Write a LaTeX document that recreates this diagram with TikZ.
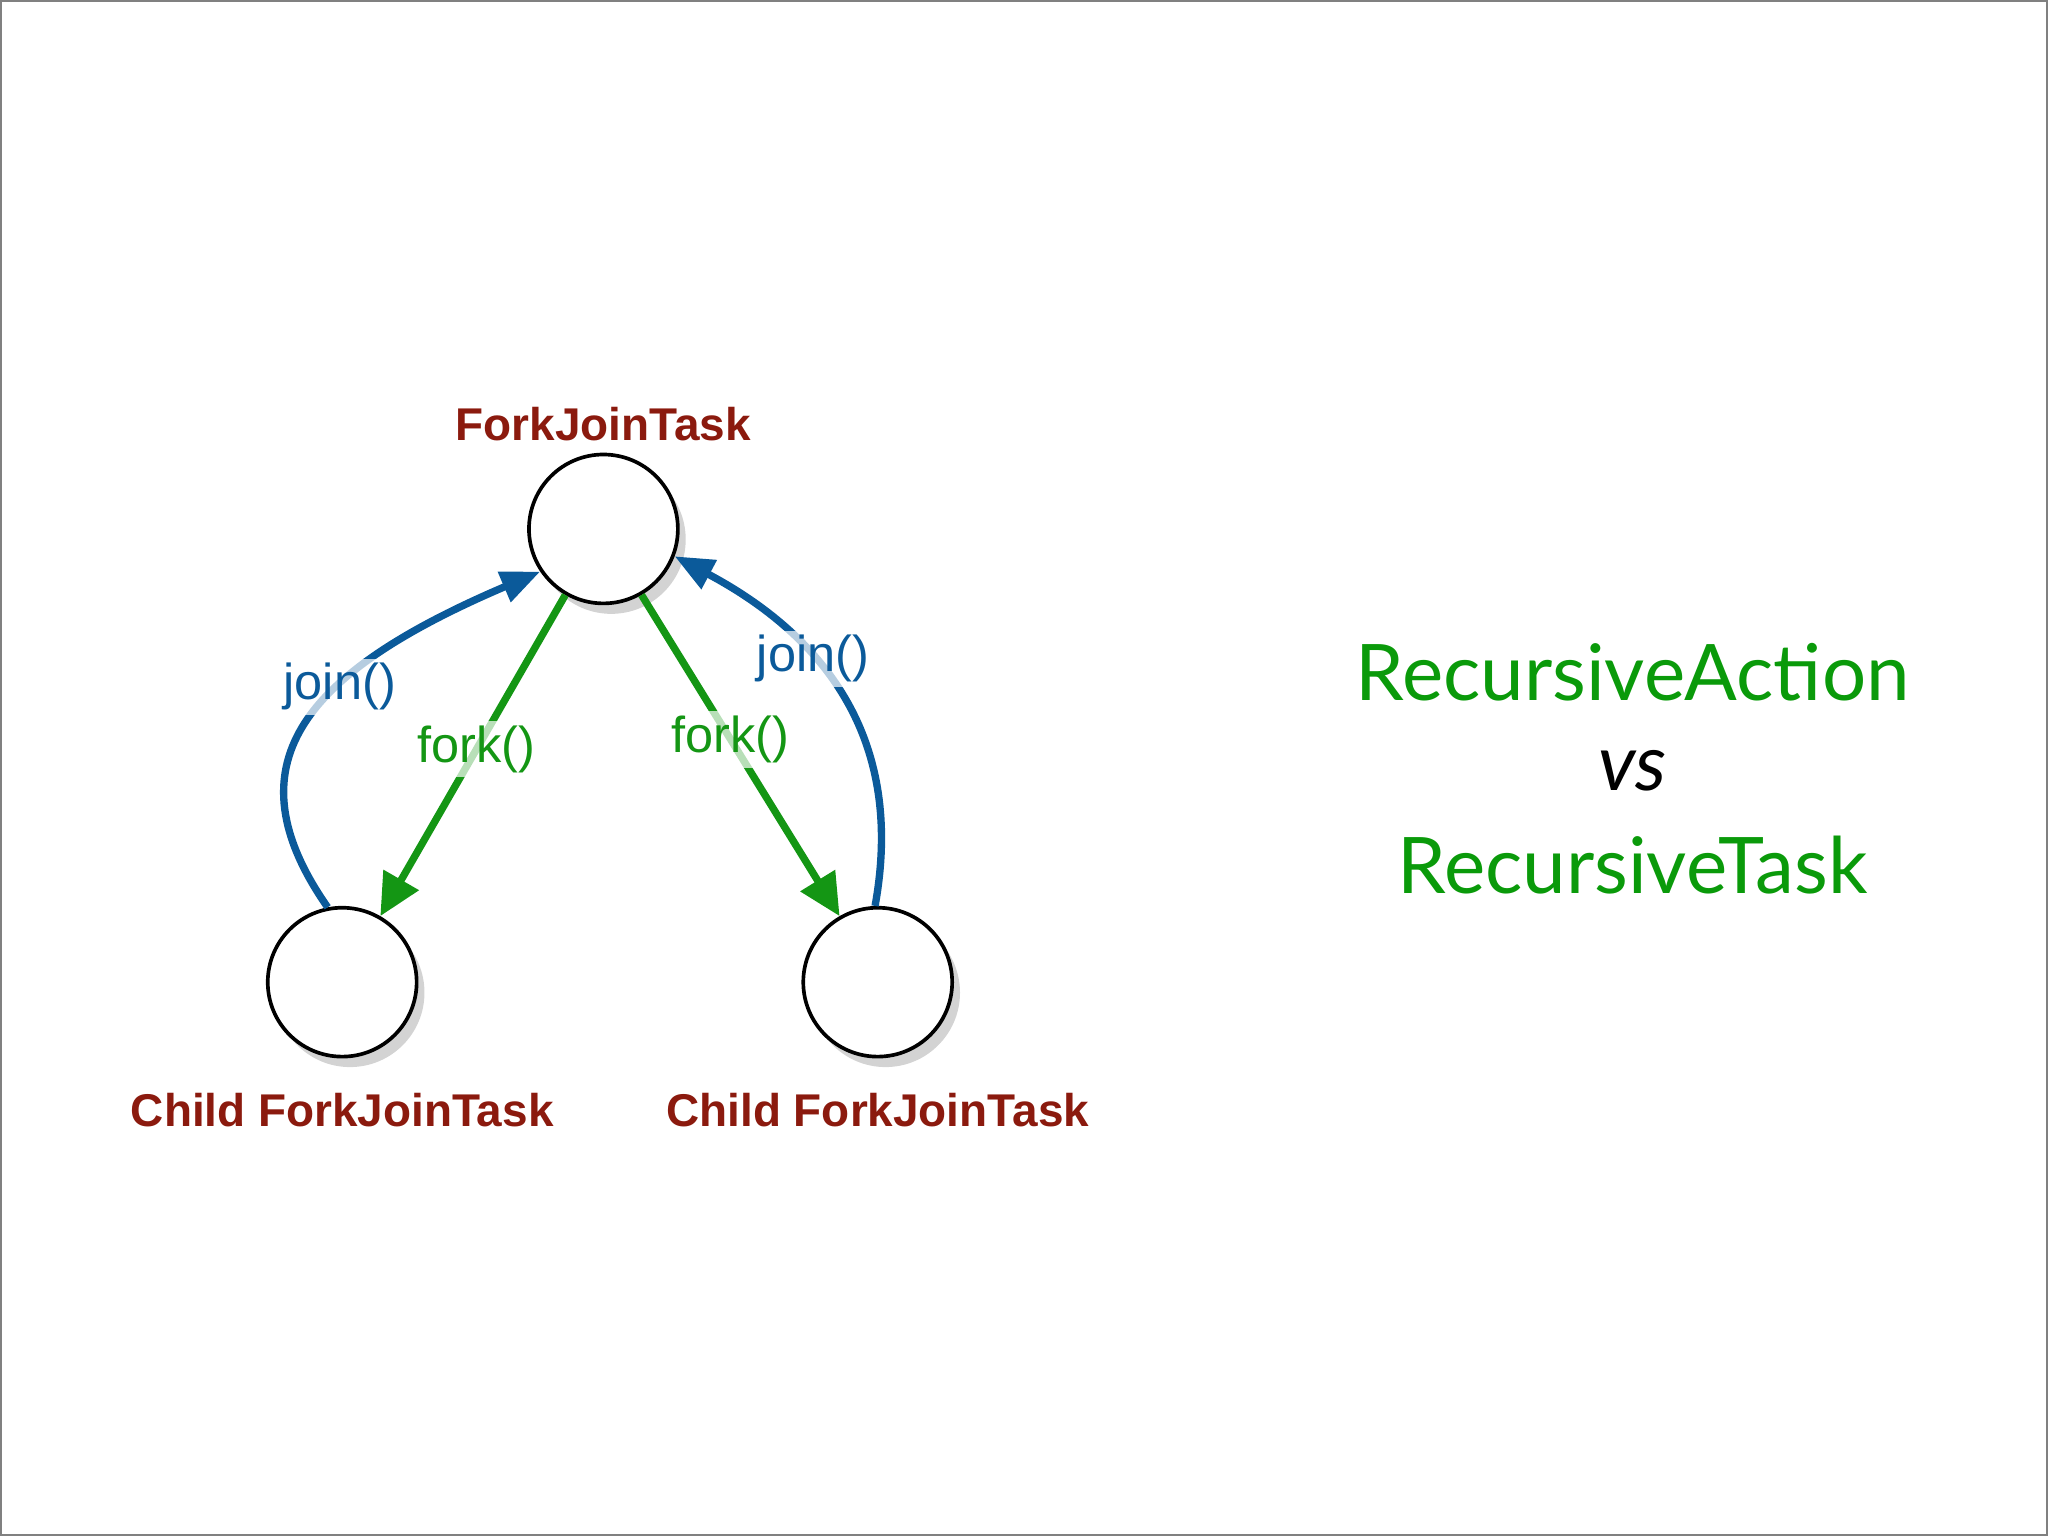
\documentclass[tikz,border=0pt]{standalone}
\usepackage{fontspec}
\setmainfont{Liberation Sans}
\newfontfamily\titlefont{Lato}
\usetikzlibrary{arrows.meta,shadows}
\definecolor{taskred}{HTML}{8B1A0E}
\definecolor{forkgreen}{HTML}{149614}
\definecolor{joinblue}{HTML}{0B5A9A}
\definecolor{titlegreen}{HTML}{0A9A0A}
\tikzset{
  task/.style={circle,draw=black,thick,fill=white,minimum size=1.14cm,inner sep=0pt,
    drop shadow={shadow xshift=0.06cm,shadow yshift=-0.08cm,opacity=0.35}},
  tasklabel/.style={text=taskred,font=\fontsize{10}{12}\selectfont\bfseries},
  forkline/.style={forkgreen,line width=1.6pt,-{Triangle[length=0.32cm,width=0.3cm]}},
  joinline/.style={joinblue,line width=1.6pt,-{Triangle[length=0.3cm,width=0.24cm]}},
  calllabel/.style={fill=white,fill opacity=0.7,text opacity=1,inner sep=1pt,
    font=\fontsize{11}{13}\selectfont},
  title/.style={text=titlegreen,font=\titlefont\fontsize{17}{20}\selectfont}
}
\begin{document}
\begin{tikzpicture}[x=1cm,y=1cm]
  \useasboundingbox (0,0) rectangle (15.68,11.76);
  \draw [gray] (0.01,0.01) rectangle (15.67,11.75);
  % tasks
  \node [task] (top) at (4.62,7.71) {};
  \node [task] (lc) at (2.62,4.24) {};
  \node [task] (rc) at (6.72,4.24) {};
  \node [tasklabel] (toplbl) at (4.62,8.51) {ForkJoinTask};
  \node [tasklabel] (lclbl) at (2.62,3.26) {Child ForkJoinTask};
  \node [tasklabel] (rclbl) at (6.72,3.26) {Child ForkJoinTask};
  % fork
  \draw [forkline] (top.240) -- node [calllabel,pos=0.48] {fork()} (lc.60);
  \draw [forkline] (top.300) -- node [calllabel,pos=0.45] {fork()} (rc.120);
  % join
  \draw [joinline] (lc.101) .. controls (1.75,5.9) and (2.3,6.6) .. node [calllabel,pos=0.62] {join()} (top.214);
  \draw [joinline] (rc.92) .. controls (6.95,6.2) and (6.2,6.95) .. node [calllabel,pos=0.6] {join()} (top.339);
  % title
  \node [title] (ra) at (12.5,6.61) {RecursiveAction};
  \node [font=\titlefont\itshape\fontsize{17}{20}\selectfont] (vs) at (12.5,5.86) {vs};
  \node [title] (rt) at (12.5,5.14) {RecursiveTask};
\end{tikzpicture}
\end{document}
